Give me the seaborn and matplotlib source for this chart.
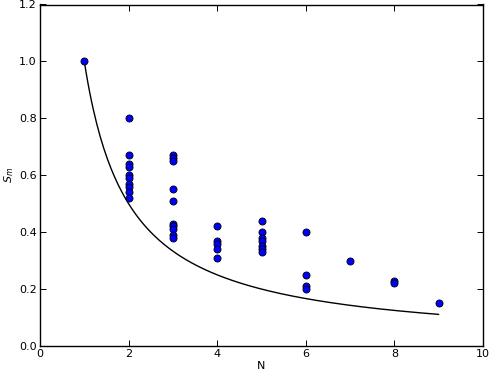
import matplotlib
matplotlib.use("Agg")
import matplotlib.pyplot as plt
import seaborn as sns
import numpy as np
import pandas as pd

sns.set_style("white")
plt.rcParams['font.family'] = ['DejaVu Sans']
plt.rcParams['text.color'] = 'black'
plt.rcParams['axes.labelcolor'] = 'black'
plt.rcParams['xtick.color'] = 'black'
plt.rcParams['ytick.color'] = 'black'

n_values = [1,
            2, 2, 2, 2, 2, 2, 2, 2, 2, 2,
            3, 3, 3, 3, 3, 3, 3, 3, 3, 3,
            4, 4, 4, 4, 4,
            5, 5, 5, 5, 5, 5, 5,
            6, 6, 6, 6,
            7,
            8, 8,
            9]
sm_values = [1.00,
             0.80, 0.67, 0.64, 0.63, 0.60, 0.59, 0.57, 0.56, 0.54, 0.52,
             0.67, 0.66, 0.65, 0.55, 0.51, 0.43, 0.42, 0.41, 0.39, 0.38,
             0.42, 0.37, 0.36, 0.34, 0.31,
             0.44, 0.40, 0.38, 0.37, 0.35, 0.34, 0.33,
             0.40, 0.25, 0.21, 0.20,
             0.30,
             0.23, 0.22,
             0.15]
curve_n = np.linspace(1, 9, 200)
curve_sm = 1.0 / curve_n

df = pd.DataFrame({"N": n_values, "Sm": sm_values})
curve = pd.DataFrame({"N": curve_n, "Sm": curve_sm})

W, H = 491, 374
fig = plt.figure(figsize=(W / 100, H / 100), dpi=100)
left, right, bottom, top = 40, 483, 346, 4.5
ax = fig.add_axes([left / W, (H - bottom) / H, (right - left) / W, (bottom - top) / H])
sns.lineplot(data=curve, x="N", y="Sm", color="black", linewidth=1.0, ax=ax)
sns.scatterplot(data=df, x="N", y="Sm", color="blue", edgecolor="black",
                linewidth=0.6, s=26, ax=ax, zorder=3)
ax.set_xlim(0, 10)
ax.set_ylim(0, 1.2)
ax.set_xticks([0, 2, 4, 6, 8, 10])
ax.set_yticks([0.0, 0.2, 0.4, 0.6, 0.8, 1.0, 1.2])
ax.set_yticklabels(["0.0", "0.2", "0.4", "0.6", "0.8", "1.0", "1.2"])
ax.set_xlabel("N", fontsize=8, labelpad=1)
ax.set_ylabel("$S_m$", fontsize=8, labelpad=2)
ax.tick_params(direction="in", top=True, right=True, length=4, width=0.7,
               labelsize=8, pad=2.5, bottom=True, left=True, color="black")
for sp in ax.spines.values():
    sp.set_color("black")
    sp.set_linewidth(1.0)
fig.savefig("out.png", dpi=100)
